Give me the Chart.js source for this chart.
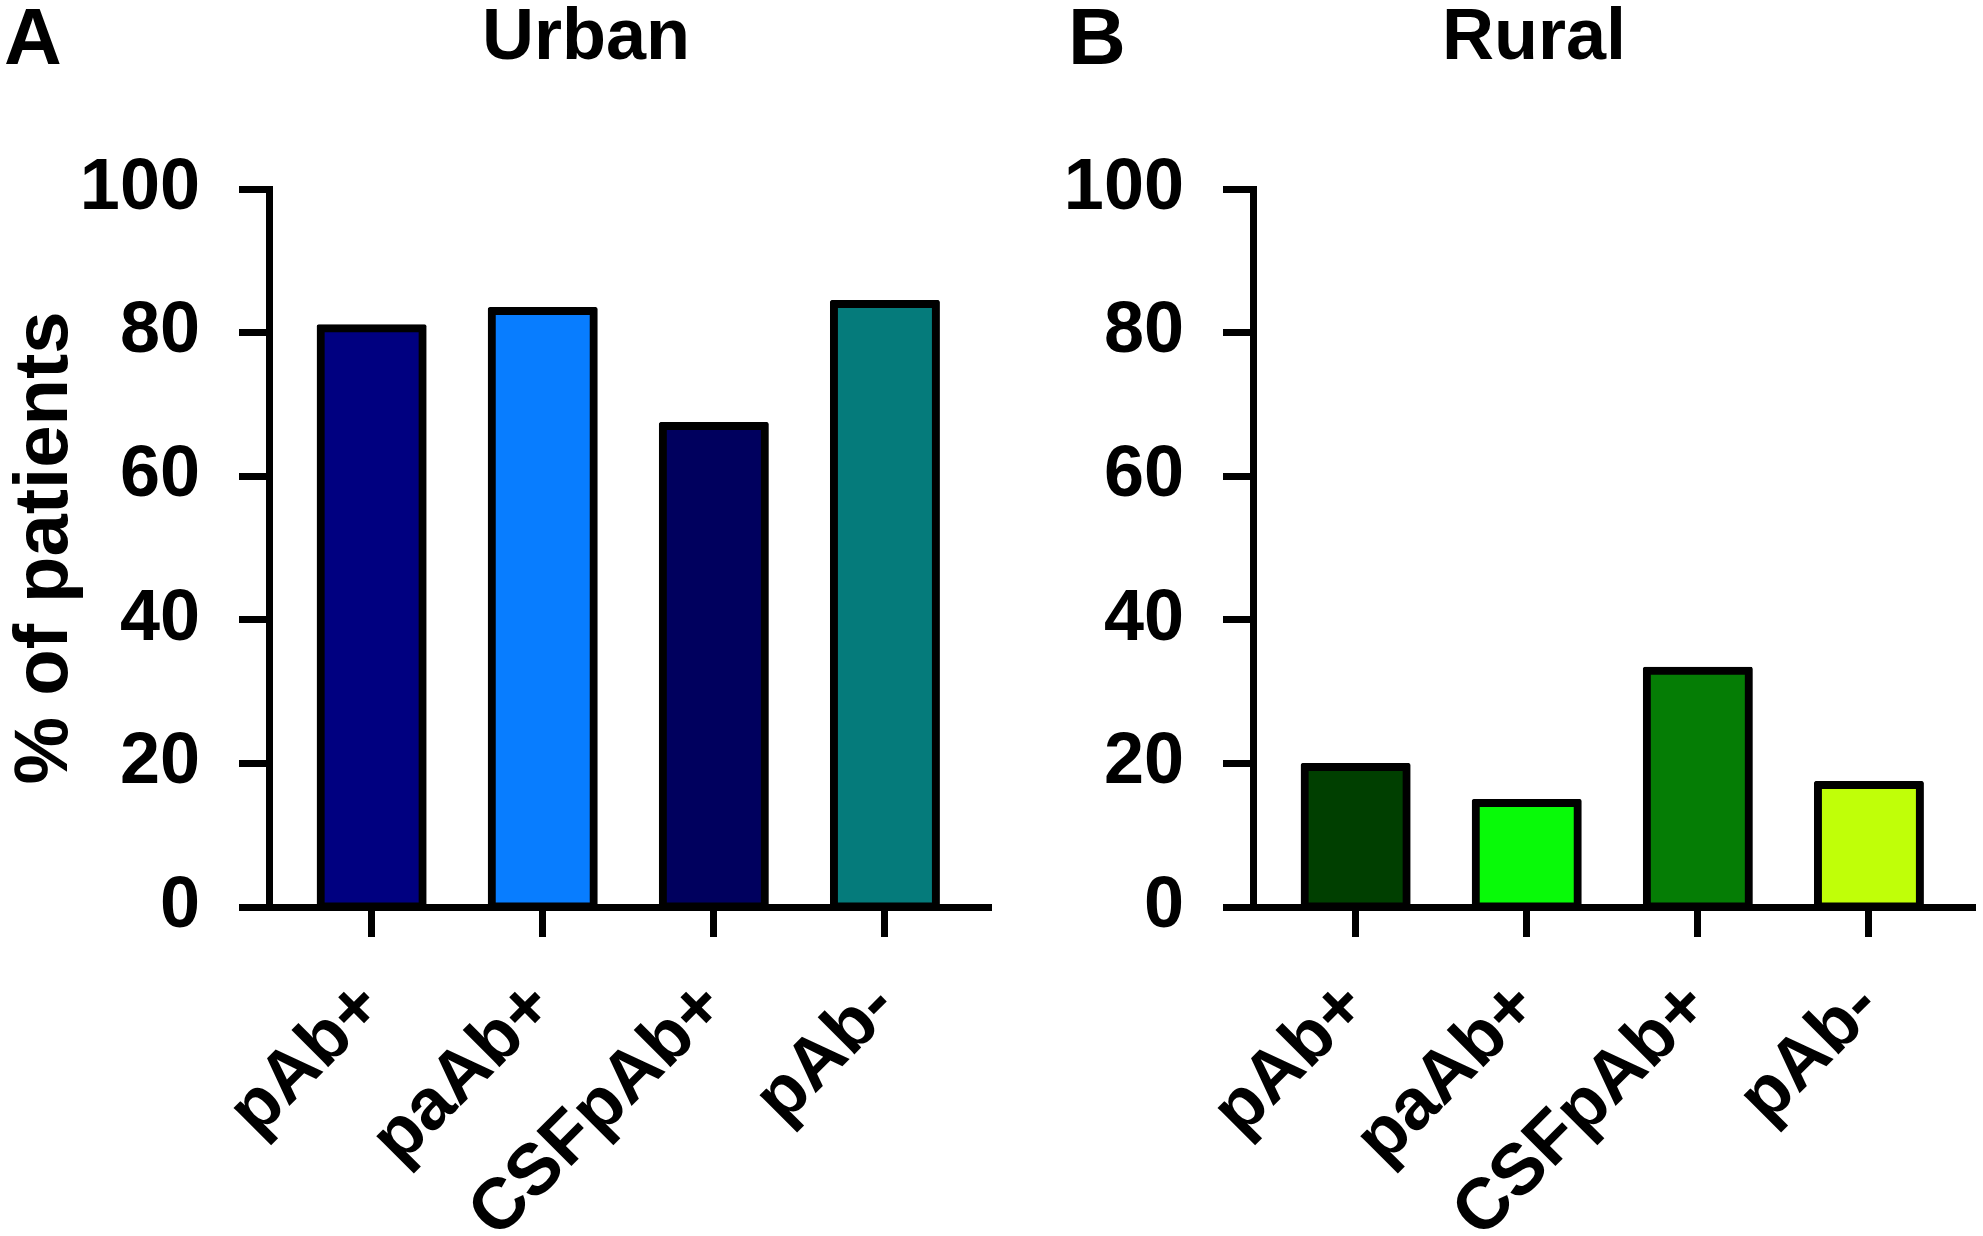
<!DOCTYPE html>
<html>
<head>
<meta charset="utf-8">
<script src="https://cdn.jsdelivr.net/npm/chart.js@4.4.1/dist/chart.umd.min.js"></script>
<style>
  body { margin: 0; background: #fff; }
  #page { position: relative; width: 1983px; height: 1236px; overflow: hidden; }
  .box { position: absolute; top: 0; width: 999px; height: 1236px; }
  .lbl { position: absolute; font-family: "Liberation Sans", Arial, sans-serif; font-weight: bold;
         font-size: 72px; line-height: 72px; color: #000; white-space: nowrap; }
  .big { font-size: 80px; line-height: 80px; }
</style>
</head>
<body>
<div id="page">
  <div class="box" style="left:0"><canvas id="urbanChart"></canvas></div>
  <div class="box" style="left:984px"><canvas id="ruralChart"></canvas></div>
  <div class="lbl big" style="left:4px; top:-3px">A</div>
  <div class="lbl" style="left:482px; top:-2px">Urban</div>
  <div class="lbl big" style="left:1068px; top:-3px">B</div>
  <div class="lbl" style="left:1442px; top:-2px">Rural</div>
</div>
<script>
// data (% of patients)
var categories = ["pAb+", "paAb+", "CSFpAb+", "pAb-"];
var urbanValues = [80.6, 83.0, 67.0, 84.0];
var ruralValues = [19.5, 14.5, 32.9, 17.0];
var yTicks = [0, 20, 40, 60, 80, 100];
var urbanColors = ["#000080", "#087DFF", "#00005E", "#057B7B"];
var ruralColors = ["#003F00", "#08FA08", "#057D05", "#C0FF08"];

var FONT = "'Liberation Sans', Arial, sans-serif";

function makeChart(id, values, colors, yTitle) {
  return new Chart(id, {
    type: "bar",
    data: {
      datasets: [{
        data: values.map(function (v, i) { return {x: i, y: v}; }),
        backgroundColor: colors,
        borderColor: "#000",
        borderWidth: 8,
        borderSkipped: false,
        borderRadius: 2,
        inflateAmount: 4,
        barThickness: 102
      }]
    },
    options: {
      responsive: true,
      maintainAspectRatio: false,
      animation: false,
      layout: {padding: {top: 189, right: 8, left: 0, bottom: 0}},
      plugins: {legend: {display: false}, tooltip: {enabled: false}},
      scales: {
        x: {
          type: "linear",
          offset: false,
          min: -0.6,
          max: 3.62,
          afterBuildTicks: function (scale) {
            scale.ticks = categories.map(function (c, i) { return {value: i}; });
          },
          afterFit: function (scale) { scale.height = 329; },
          grid: {display: true, offset: false, drawOnChartArea: false, drawTicks: true,
                 tickLength: 30, tickWidth: 7, tickColor: "#000"},
          border: {display: true, color: "#000", width: 7},
          ticks: {
            autoSkip: false,
            minRotation: 45,
            maxRotation: 45,
            padding: 28,
            color: "#000",
            font: {family: FONT, size: 72, weight: "bold"},
            callback: function (v) { return categories[v]; }
          }
        },
        y: {
          min: 0,
          max: 100,
          afterBuildTicks: function (scale) {
            scale.ticks = yTicks.map(function (v) { return {value: v}; });
          },
          afterFit: function (scale) { scale.width = 269; },
          grid: {display: true, drawOnChartArea: false, drawTicks: true,
                 tickLength: 30, tickWidth: 7, tickColor: "#000"},
          border: {display: true, color: "#000", width: 7},
          ticks: {
            padding: 39,
            color: "#000",
            font: {family: FONT, size: 72, weight: "bold"}
          },
          title: {
            display: !!yTitle,
            text: yTitle || "",
            color: "#000",
            padding: 0,
            font: {family: FONT, size: 76, weight: "bold"}
          }
        }
      }
    }
  });
}

makeChart("urbanChart", urbanValues, urbanColors, "% of patients");
makeChart("ruralChart", ruralValues, ruralColors, null);
</script>
</body>
</html>
